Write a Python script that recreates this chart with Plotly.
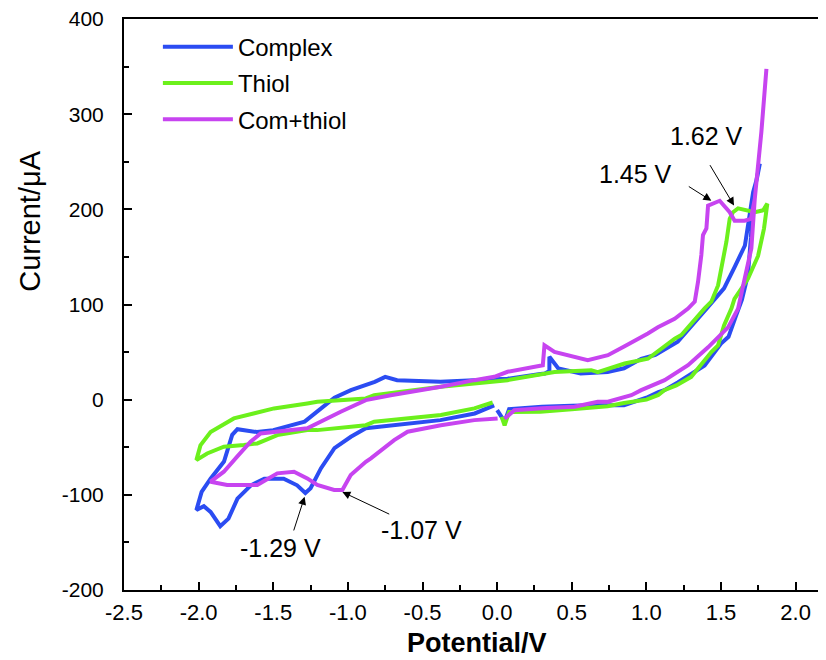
import plotly.graph_objects as go

# ---------------- data ----------------
complex_v = [0.00, 0.05, 0.08, 0.18, 0.30, 0.50, 0.63, 0.85, 1.00, 1.08, 1.12, 1.21, 1.30, 1.39, 1.50, 1.55, 1.60,
             1.64, 1.68, 1.69, 1.70, 1.71, 1.72, 1.76,
             1.74, 1.715, 1.69, 1.66, 1.59, 1.52, 1.41, 1.30, 1.21, 1.06, 0.965, 0.85, 0.74, 0.56, 0.41, 0.35, 0.35,
             0.32, 0.29, 0.07, -0.15, -0.38, -0.67, -0.75, -0.82, -0.98, -1.09, -1.29, -1.50, -1.61, -1.74, -1.775,
             -1.83, -1.92, -1.98, -2.015, -1.965, -1.92, -1.855, -1.80, -1.74, -1.65, -1.56, -1.43, -1.34, -1.285,
             -1.25, -1.18, -1.09, -0.98, -0.88, -0.71, -0.38, -0.15, -0.02]
complex_i = [-11, -23, -10, -8.5, -7.5, -6.5, -5.8, -5.8, 2, 8, 10, 18, 27, 36, 59, 66, 88,
             105, 131, 148, 170, 200, 218, 248,
             232, 218, 194, 162, 139, 117, 97, 78, 61, 47, 43, 33, 29, 27.5, 32.7, 45, 30,
             27.5, 27, 22, 20.5, 18.8, 20.5, 24, 18.8, 10, 2, -23, -32, -34, -31, -37,
             -65, -83, -97, -116, -112, -118, -133, -125, -104, -90, -83, -83, -90, -98,
             -93, -72, -51, -39, -30, -27, -21.5, -14.5, -6]

thiol_v = [0.03, 0.05, 0.08, 0.29, 0.50, 0.74, 0.85, 1.00, 1.08, 1.12, 1.20, 1.30, 1.435, 1.48, 1.52, 1.57, 1.59,
           1.68, 1.748, 1.788, 1.81,
           1.782, 1.726, 1.658, 1.614, 1.58, 1.558, 1.536, 1.502, 1.48, 1.435, 1.39, 1.234, 1.19, 1.01, 0.854,
           0.674, 0.63, 0.384, 0.07, -0.377, -0.824, -0.88, -1.205, -1.272, -1.495, -1.764, -1.92, -1.988, -2.015,
           -1.943, -1.831, -1.697, -1.607, -1.473, -1.272, -1.205, -0.88, -0.824, -0.377, -0.153, -0.03]
thiol_i = [-18, -27, -13, -12.7, -10, -7, -3.5, 0, 5, 10, 15, 24, 50, 57, 78, 96, 106,
           127, 151, 180, 206,
           199, 197, 199, 201, 197, 190, 166, 138, 120, 103, 96, 68, 64, 43, 38,
           29, 31, 29, 20.5, 13.5, 4.7, 1.3, -2.2, -4, -9.2, -19.7, -34, -48, -63.5,
           -56.5, -49.4, -47.7, -46, -37.2, -32, -32, -26.8, -23.2, -16.2, -9.2, -3]

comthiol_v = [0.05, 0.115, 0.30, 0.518, 0.674, 0.742, 0.899, 0.965, 1.122, 1.189, 1.279, 1.413, 1.547, 1.614, 1.658,
              1.681, 1.703, 1.726, 1.77, 1.804,
              1.77, 1.726, 1.70, 1.658, 1.591, 1.558, 1.491, 1.413, 1.402, 1.379, 1.368, 1.346, 1.324, 1.279, 1.189,
              1.077, 1.01, 0.854, 0.742, 0.607, 0.473, 0.384, 0.317, 0.306, 0.07, -0.019, -0.153, -0.377, -0.713,
              -0.88, -1.048, -1.205, -1.272, -1.585, -1.652, -1.742, -1.831, -1.92,
              -1.809, -1.607, -1.473, -1.361, -1.272, -1.205, -1.092, -1.037, -0.981, -0.88, -0.846, -0.69, -0.6,
              -0.377, -0.153, 0.003]
comthiol_i = [-20, -11, -9, -7.5, -2.2, -2.2, 4.7, 10, 20.5, 27.5, 36.2, 55, 76, 95.7, 127,
              148, 159, 211, 281, 347.5,
              281, 211, 190, 188, 188, 197, 209, 204, 180, 173, 152, 124, 103, 95.7, 85,
              76, 69.5, 56, 46.7, 41.5, 46.7, 50.2, 57.2, 36.2, 29.3, 24, 20.5, 13.5, 4.7,
              -0.5, -12.7, -25, -30, -35.5, -44.2, -59.9, -75.7, -86.2,
              -89.7, -89.7, -77.4, -75.7, -82.7, -89.7, -94.9, -95, -79.2, -65.2, -61.7, -42.5, -33.7,
              -26.8, -21.5, -19.7]

series_names = ["Complex", "Thiol", "Com+thiol"]
series_colors = ["#2b4cf2", "#6cf01c", "#c744f0"]

x_tickvals = [-2.5, -2.0, -1.5, -1.0, -0.5, 0.0, 0.5, 1.0, 1.5, 2.0]
x_ticktext = ["-2.5", "-2.0", "-1.5", "-1.0", "-0.5", "0.0", "0.5", "1.0", "1.5", "2.0"]
y_tickvals = [-200, -100, 0, 100, 200, 300, 400]
y_ticktext = ["-200", "-100", "0", "100", "200", "300", "400"]

x_title = "Potential/V"
y_title = "Current/μA"

# peak labels: (text, tip x, tip y, tail x, tail y, text x, text y)
peak_labels = [
    ("1.62 V", 1.587, 204, 1.42, 248, 1.40, 277),
    ("1.45 V", 1.435, 209, 1.274, 225, 0.93, 237),
    ("-1.29 V", -1.29, -102, -1.366, -139, -1.45, -156),
    ("-1.07 V", -1.037, -97, -0.713, -121, -0.51, -137),
]

FONT = "Liberation Sans, Arial, sans-serif"

fig = go.Figure()
for name, xs, ys, col in zip(series_names, [complex_v, thiol_v, comthiol_v],
                             [complex_i, thiol_i, comthiol_i], series_colors):
    fig.add_trace(go.Scatter(x=xs, y=ys, mode="lines", name=name,
                             line=dict(color=col, width=4), legendgroup=name))

for text, tx, ty, ax, ay, lx, ly in peak_labels:
    fig.add_annotation(x=tx, y=ty, ax=ax, ay=ay, xref="x", yref="y", axref="x", ayref="y",
                       text="", showarrow=True, arrowhead=2, arrowsize=1.6, arrowwidth=1,
                       arrowcolor="black")
    fig.add_annotation(x=lx, y=ly, xref="x", yref="y", text=text, showarrow=False,
                       font=dict(size=25, color="black", family=FONT))

# axis titles (placed like the reference)
fig.add_annotation(x=0.5, y=-0.092, xref="paper", yref="paper", text=x_title, showarrow=False,
                   xanchor="center", yanchor="middle",
                   font=dict(size=27, color="black", family=FONT, weight="bold"))
fig.add_annotation(x=-0.133, y=0.645, xref="paper", yref="paper", text=y_title, showarrow=False,
                   textangle=-90, xanchor="center", yanchor="middle",
                   font=dict(size=29, color="black", family=FONT))

fig.update_layout(
    width=826, height=660,
    margin=dict(l=116, r=4, t=11, b=78, autoexpand=False),
    paper_bgcolor="white", plot_bgcolor="white",
    font=dict(family=FONT, color="black"),
    showlegend=True,
    legend=dict(x=0.048, y=0.990, xanchor="left", yanchor="top", bgcolor="rgba(0,0,0,0)",
                font=dict(size=24, color="black", family=FONT), traceorder="grouped",
                tracegroupgap=2, itemwidth=70),
)
fig.update_xaxes(range=[-2.5, 2.23], tickvals=x_tickvals, ticktext=x_ticktext,
                 ticks="inside", ticklen=8, tickwidth=2, tickcolor="black",
                 showline=True, linewidth=2, linecolor="black", mirror=True,
                 showgrid=False, zeroline=False, automargin=False,
                 ticklabeloverflow="allow", ticklabelstandoff=2,
                 tickfont=dict(size=22, color="black", family=FONT),
                 minor=dict(ticks="inside", ticklen=5, tickwidth=2, tickcolor="black", dtick=0.25,
                            tick0=-2.5, showgrid=False))
fig.update_yaxes(range=[-200, 400], tickvals=y_tickvals, ticktext=y_ticktext,
                 ticks="inside", ticklen=8, tickwidth=2, tickcolor="black",
                 showline=True, linewidth=2, linecolor="black", mirror=True,
                 showgrid=False, zeroline=False, automargin=False,
                 ticklabeloverflow="allow", ticklabelstandoff=14,
                 tickfont=dict(size=21, color="black", family=FONT),
                 minor=dict(ticks="inside", ticklen=5, tickwidth=2, tickcolor="black", dtick=50,
                            tick0=-200, showgrid=False))

fig.write_html("out.html")
